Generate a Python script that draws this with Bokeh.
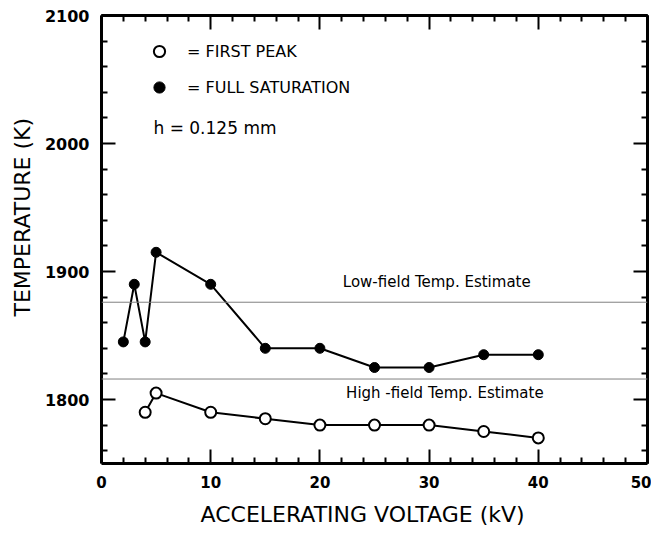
from bokeh.plotting import figure
from bokeh.models import (Range1d, LinearAxis, FixedTicker,
                          ColumnDataSource, Legend, LegendItem, Label, Span, Title)
from bokeh.embed import file_html
from bokeh.resources import INLINE

# ---- data ----
voltage_sat = [2, 3, 4, 5, 10, 15, 20, 25, 30, 35, 40]
temp_sat = [1845, 1890, 1845, 1915, 1890, 1840, 1840, 1825, 1825, 1835, 1835]

voltage_peak = [4, 5, 10, 15, 20, 25, 30, 35, 40]
temp_peak = [1790, 1805, 1790, 1785, 1780, 1780, 1780, 1775, 1770]

estimate_levels = [1876, 1816]
estimate_labels = ["Low-field Temp. Estimate", "High -field Temp. Estimate"]

x_major_ticks = [0, 10, 20, 30, 40, 50]
x_minor_ticks = [2, 4, 6, 8, 12, 14, 16, 18, 22, 24, 26, 28, 32, 34, 36, 38, 42, 44, 46, 48]
y_major_ticks = [1800, 1900, 2000, 2100]
y_minor_ticks = [1760, 1780, 1820, 1840, 1860, 1880, 1920, 1940, 1960, 1980,
                 2020, 2040, 2060, 2080]

x_label = "ACCELERATING  VOLTAGE  (kV)"
y_label = "TEMPERATURE  (K)"
legend_labels = ["= FIRST PEAK", "= FULL SATURATION"]
note_text = "h =  0.125 mm"

FONT = "DejaVu Sans"

p = figure(frame_width=546, frame_height=448,
           min_border_left=101, min_border_right=4, min_border_top=15, min_border_bottom=65,
           x_range=Range1d(0, 50), y_range=Range1d(1750, 2100),
           output_backend="svg", toolbar_location=None, x_axis_location=None,
           y_axis_location=None, background_fill_color="white", border_fill_color="white")
p.outline_line_color = None
p.xgrid.visible = False
p.ygrid.visible = False


def base_axis(ax):
    ax.axis_line_width = 3
    ax.axis_line_color = "black"
    ax.major_tick_out = 0
    ax.minor_tick_out = 0
    ax.major_tick_line_width = 2
    ax.minor_tick_line_width = 2
    ax.major_tick_line_color = "black"
    ax.minor_tick_line_color = "black"


# labelled axes (bottom, left)
xb = LinearAxis(ticker=FixedTicker(ticks=x_major_ticks, minor_ticks=x_minor_ticks))
yl = LinearAxis(ticker=FixedTicker(ticks=y_major_ticks, minor_ticks=y_minor_ticks))
for ax, fs in [(xb, "15px"), (yl, "16px")]:
    base_axis(ax)
    ax.major_tick_in = 14
    ax.minor_tick_in = 6
    ax.major_label_text_font = FONT
    ax.major_label_text_font_style = "bold"
    ax.major_label_text_color = "black"
    ax.major_label_text_font_size = fs
    ax.major_label_standoff = 12
p.add_layout(xb, "below")
p.add_layout(yl, "left")

# unlabeled mirror axes (top, right): ticks only
for loc, majors, minors in [("above", x_major_ticks, x_minor_ticks),
                            ("right", y_major_ticks, y_minor_ticks)]:
    a_min = LinearAxis(ticker=FixedTicker(ticks=[], minor_ticks=minors))
    base_axis(a_min)
    a_min.minor_tick_in = 6
    p.add_layout(a_min, loc)
    a_maj = LinearAxis(ticker=FixedTicker(ticks=[], minor_ticks=majors))
    base_axis(a_maj)
    a_maj.minor_tick_in = 14
    p.add_layout(a_maj, loc)

# axis titles
p.add_layout(Title(text=x_label, align="left", offset=99, standoff=18,
                   text_font=FONT, text_font_size="22px", text_font_style="normal",
                   text_color="black"), "below")
p.add_layout(Title(text=y_label, align="left", offset=147, standoff=14,
                   text_font=FONT, text_font_size="22px", text_font_style="normal",
                   text_color="black"), "left")

# estimate lines
for lvl in estimate_levels:
    p.add_layout(Span(location=lvl, dimension="width", line_color="#808080", line_width=1))

p.add_layout(Label(x=22.1, y=1892, text=estimate_labels[0], text_font=FONT,
                   text_font_size="15px", text_baseline="middle", text_align="left",
                   text_color="black"))
p.add_layout(Label(x=22.4, y=1805, text=estimate_labels[1], text_font=FONT,
                   text_font_size="15px", text_baseline="middle", text_align="left",
                   text_color="black"))

src_sat = ColumnDataSource(dict(x=voltage_sat, y=temp_sat))
src_peak = ColumnDataSource(dict(x=voltage_peak, y=temp_peak))

p.line("x", "y", source=src_sat, line_color="black", line_width=2)
r_sat = p.scatter("x", "y", source=src_sat, size=10, marker="circle",
                  fill_color="black", line_color="black", line_width=1)

p.line("x", "y", source=src_peak, line_color="black", line_width=2)
r_peak = p.scatter("x", "y", source=src_peak, size=11, marker="circle",
                   fill_color="white", line_color="black", line_width=2)

legend = Legend(items=[LegendItem(label=legend_labels[0], renderers=[r_peak]),
                       LegendItem(label=legend_labels[1], renderers=[r_sat])],
                location=(44, 362), orientation="vertical",
                glyph_width=28, glyph_height=28, spacing=8, padding=0, margin=0,
                label_standoff=14, label_text_font=FONT, label_text_font_size="16px",
                label_text_color="black", border_line_color=None,
                background_fill_alpha=0)
p.add_layout(legend)

p.add_layout(Label(x=4.76, y=2012.5, text=note_text, text_font=FONT,
                   text_font_size="17px", text_baseline="middle", text_align="left",
                   text_color="black"))

open("out.html", "w").write(file_html(p, INLINE))
